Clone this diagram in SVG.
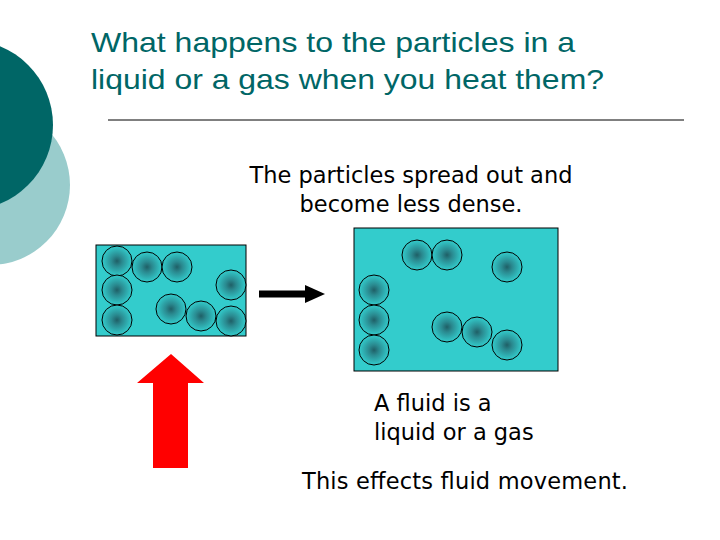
<svg xmlns="http://www.w3.org/2000/svg" width="720" height="540" viewBox="0 0 720 540">
<defs>
<radialGradient id="p"><stop offset="0" stop-color="#1f5f66"/><stop offset="0.35" stop-color="#2a8a90"/><stop offset="1" stop-color="#33cccc"/></radialGradient>
<style>.b{fill:#33cccc;stroke:#000;stroke-width:1}.c{fill:url(#p);stroke:#000;stroke-width:1}.t{font-family:"DejaVu Sans",sans-serif;font-size:22.5px;fill:#000}</style>
</defs>
<rect width="720" height="540" fill="#fff"/>
<g id="bg"><circle cx="-10" cy="185" r="80" fill="#99cccc"/><circle cx="-32" cy="125" r="85" fill="#006666"/></g>
<g id="title" font-family="Liberation Sans,sans-serif" font-size="28" fill="#006666"><text x="91" y="52" textLength="484" lengthAdjust="spacingAndGlyphs">What happens to the particles in a</text><text x="91" y="89" textLength="513" lengthAdjust="spacingAndGlyphs">liquid or a gas when you heat them?</text></g>
<line x1="108" y1="120" x2="684" y2="120" stroke="#000" stroke-width="1"/>
<g id="labels"><text class="t" x="411" y="183" text-anchor="middle">The particles spread out and</text><text class="t" x="411" y="212" text-anchor="middle">become less dense.</text><text class="t" x="374" y="411">A fluid is a</text><text class="t" x="374" y="440">liquid or a gas</text><text class="t" x="302" y="489" textLength="326">This effects fluid movement.</text></g>
<g id="cold"><rect class="b" x="96" y="245" width="150" height="91"/>
<circle class="c" cx="117" cy="261" r="15"/><circle class="c" cx="147" cy="267" r="15"/><circle class="c" cx="177" cy="267" r="15"/><circle class="c" cx="117" cy="290" r="15"/><circle class="c" cx="231" cy="285" r="15"/><circle class="c" cx="117" cy="320" r="15"/><circle class="c" cx="171" cy="309" r="15"/><circle class="c" cx="201" cy="316" r="15"/><circle class="c" cx="231" cy="321" r="15"/></g>
<g id="hot"><rect class="b" x="354" y="228" width="204" height="143"/>
<circle class="c" cx="417" cy="255" r="15"/><circle class="c" cx="447" cy="255" r="15"/><circle class="c" cx="507" cy="267" r="15"/><circle class="c" cx="374" cy="290" r="15"/><circle class="c" cx="374" cy="320" r="15"/><circle class="c" cx="374" cy="350" r="15"/><circle class="c" cx="447" cy="327" r="15"/><circle class="c" cx="477" cy="332" r="15"/><circle class="c" cx="507" cy="345" r="15"/></g>
<g id="connectors"><line x1="259" y1="294" x2="307" y2="294" stroke="#000" stroke-width="7"/><polygon points="305,285 325,294 305,303" fill="#000"/>
<polygon points="153,468 188,468 188,383 204,383 171,354 137,383 153,383" fill="#ff0000"/></g>
</svg>
